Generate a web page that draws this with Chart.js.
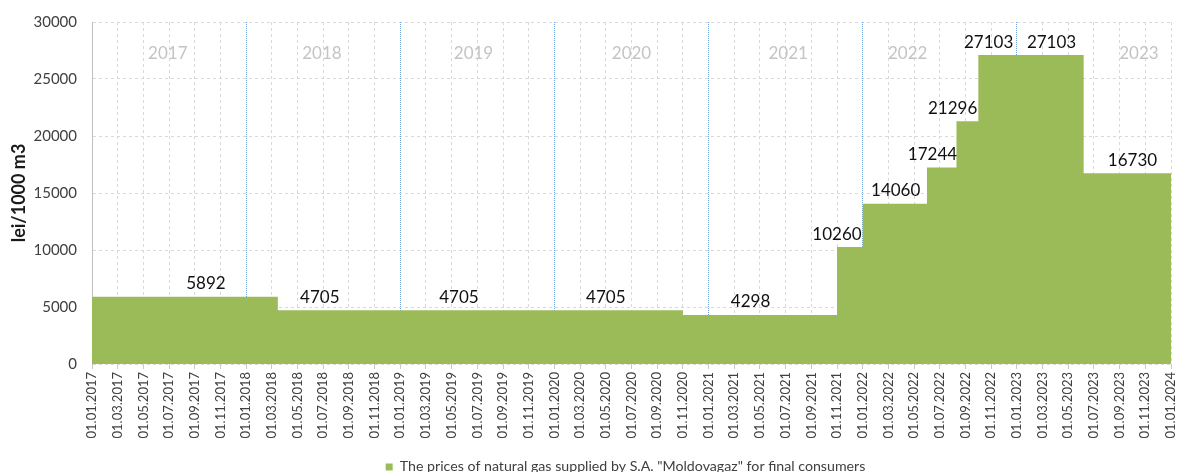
<!DOCTYPE html>
<html>
<head>
<meta charset="utf-8">
<script src="https://cdn.jsdelivr.net/npm/chart.js@4.4.1/dist/chart.umd.min.js"></script>
<style>
  html, body { margin: 0; padding: 0; background: #fff; overflow: hidden; }
  #wrap { width: 1178px; height: 484px; }
</style>
</head>
<body>
<div id="wrap"><canvas id="myChart"></canvas></div>
<script>
// tick labels on the date axis (every two months)
const tickLabels = [
    '01.01.2017', '01.03.2017', '01.05.2017', '01.07.2017', '01.09.2017', '01.11.2017',
    '01.01.2018', '01.03.2018', '01.05.2018', '01.07.2018', '01.09.2018', '01.11.2018',
    '01.01.2019', '01.03.2019', '01.05.2019', '01.07.2019', '01.09.2019', '01.11.2019',
    '01.01.2020', '01.03.2020', '01.05.2020', '01.07.2020', '01.09.2020', '01.11.2020',
    '01.01.2021', '01.03.2021', '01.05.2021', '01.07.2021', '01.09.2021', '01.11.2021',
    '01.01.2022', '01.03.2022', '01.05.2022', '01.07.2022', '01.09.2022', '01.11.2022',
    '01.01.2023', '01.03.2023', '01.05.2023', '01.07.2023', '01.09.2023', '01.11.2023',
    '01.01.2024'
];

// price changes (date from which the price applies) and prices, lei/1000 m3
const changeDates = ['01.01.2017', '15.03.2018', '01.11.2020', '01.11.2021', '01.01.2022',
                     '01.06.2022', '10.08.2022', '01.10.2022', '07.06.2023', '01.01.2024'];
const prices = [5892, 4705, 4298, 10260, 14060, 17244, 21296, 27103, 16730, 16730];

// value labels and where they sit on the date axis
const labelDates = ['27.09.2017', '23.06.2018', '18.05.2019', '01.05.2020', '09.04.2021', '01.11.2021',
                    '18.03.2022', '14.06.2022', '01.08.2022', '25.10.2022', '22.03.2023', '01.10.2023'];
const labelValues = [5892, 4705, 4705, 4705, 4298, 10260, 14060, 17244, 21296, 27103, 27103, 16730];

// year captions
const years = ['2017', '2018', '2019', '2020', '2021', '2022', '2023'];
const yearLabelDates = ['28.06.2017', '28.06.2018', '22.06.2019', '01.07.2020', '07.07.2021', '16.04.2022', '16.10.2023'];

const seriesName = 'The prices of natural gas supplied by S.A. "Moldovagaz" for final consumers';

// months since 01.01.2017
function toMonths(d) {
    const [dd, mm, yy] = d.split('.').map(Number);
    return (yy - 2017) * 12 + (mm - 1) + (dd - 1) / 30;
}

const FONT = 'Lato, "Open Sans", sans-serif';

const overlay = {
    id: 'overlay',
    afterLayout(chart) {
        chart.legend.left += 40;
        chart.legend.right += 40;
    },
    beforeDatasetsDraw(chart) {
        const { ctx, chartArea: a, scales: { x } } = chart;
        ctx.save();
        ctx.strokeStyle = '#6f9fd8';
        ctx.lineWidth = 1;
        ctx.setLineDash([1, 1]);
        years.slice(1).forEach(y => {
            const px = Math.round(x.getPixelForValue(toMonths('01.01.' + y)) - 0.5) + 0.5;
            ctx.clearRect(px - 0.5, a.top, 1, a.bottom - a.top);
            ctx.beginPath();
            ctx.moveTo(px, a.top);
            ctx.lineTo(px, a.bottom);
            ctx.stroke();
        });
        ctx.restore();
    },
    afterDatasetsDraw(chart) {
        const { ctx, scales: { x, y } } = chart;
        ctx.save();
        ctx.textAlign = 'center';
        ctx.textBaseline = 'middle';

        ctx.fillStyle = '#c4c4c4';
        ctx.font = '17px ' + FONT;
        years.forEach((t, i) => {
            ctx.fillText(t, x.getPixelForValue(toMonths(yearLabelDates[i])), y.top + 32);
        });

        ctx.fillStyle = '#111';
        ctx.font = '17px ' + FONT;
        labelValues.forEach((v, i) => {
            ctx.fillText(String(v), x.getPixelForValue(toMonths(labelDates[i])), y.getPixelForValue(v) - 13);
        });
        ctx.restore();
    }
};

new Chart(document.getElementById('myChart'), {
    type: 'line',
    data: {
        datasets: [{
            label: seriesName,
            data: changeDates.map((d, i) => ({ x: toMonths(d), y: prices[i] })),
            stepped: 'before',
            fill: 'origin',
            backgroundColor: '#9bbb59',
            borderColor: '#9bbb59',
            borderWidth: 0,
            pointRadius: 0
        }]
    },
    options: {
        responsive: true,
        maintainAspectRatio: false,
        animation: false,
        layout: { padding: { top: 22, right: 7, left: 0, bottom: 0 } },
        plugins: {
            tooltip: { enabled: false },
            legend: {
                position: 'bottom',
                labels: {
                    boxWidth: 7,
                    boxHeight: 7,
                    padding: 10,
                    color: '#404040',
                    font: { family: FONT, size: 14.2 }
                }
            }
        },
        scales: {
            x: {
                type: 'linear',
                min: 0,
                max: toMonths(tickLabels[tickLabels.length - 1]),
                afterBuildTicks(axis) {
                    axis.ticks = tickLabels.map(t => ({ value: toMonths(t) }));
                },
                afterFit(scale) {
                    scale.height = scale.chart.height - 364 - scale.chart.legend.height;
                    scale.paddingLeft = 0;
                    scale.paddingRight = 0;
                },
                grid: {
                    color: '#d9d9d9',
                    tickColor: '#c8c8c8',
                    tickLength: 5
                },
                border: { display: false, dash: [3, 3] },
                ticks: {
                    autoSkip: false,
                    minRotation: 90,
                    maxRotation: 90,
                    padding: 3,
                    color: '#404040',
                    font: { family: FONT, size: 13 },
                    callback: (v, i) => tickLabels[i]
                }
            },
            y: {
                min: 0,
                max: 30000,
                afterFit(scale) {
                    scale.width = 92;
                    scale.paddingTop = 0;
                    scale.paddingBottom = 0;
                },
                grid: { color: '#d9d9d9', drawTicks: false },
                border: { display: true, color: '#bfbfbf', dash: [3, 3] },
                ticks: {
                    stepSize: 5000,
                    padding: 15,
                    color: '#404040',
                    font: { family: FONT, size: 15 },
                    callback: v => String(v)
                },
                title: {
                    display: true,
                    text: 'lei/1000 m3',
                    color: '#1a1a1a',
                    padding: { top: 8, bottom: 0 },
                    font: { family: FONT, size: 18, weight: 'bold' }
                }
            }
        }
    },
    plugins: [overlay]
});
</script>
</body>
</html>
